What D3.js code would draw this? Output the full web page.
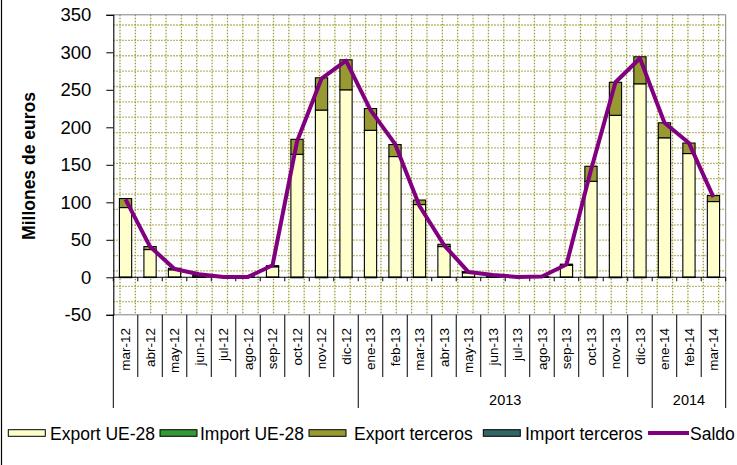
<!DOCTYPE html>
<html>
<head>
<meta charset="utf-8">
<script src="https://cdn.jsdelivr.net/npm/d3@7"></script>
<style>
  html, body { margin: 0; padding: 0; background: #fff; }
  svg { display: block; font-family: "Liberation Sans", Arial, sans-serif; }
</style>
</head>
<body>
<svg id="chart" width="737" height="465"></svg>
<script>
// ---- data ----
const months = ["mar-12","abr-12","may-12","jun-12","jul-12","ago-12","sep-12","oct-12","nov-12","dic-12",
  "ene-13","feb-13","mar-13","abr-13","may-13","jun-13","jul-13","ago-13","sep-13","oct-13","nov-13","dic-13",
  "ene-14","feb-14","mar-14"];
const years = [
  {label: "", from: 0, to: 10},
  {label: "2013", from: 10, to: 22},
  {label: "2014", from: 22, to: 25}
];
const exportUE        = [93, 37, 10, 2, 0.3, 0.3, 14, 164, 223, 250, 196, 161, 97, 41, 6, 2, 0.3, 1, 16, 128, 216, 258, 186, 165, 101];
const importUE        = [-0.2, -0.2, -0.1, -0.1, -0.1, -0.1, -0.1, -0.3, -0.3, -0.3, -0.3, -0.2, -0.2, -0.1, -0.1, -0.1, -0.1, -0.1, -0.1, -0.3, -0.3, -0.3, -0.3, -0.2, -0.2];
const exportTerceros  = [12, 4, 2, 1.5, 0, 0, 1.5, 20, 43, 40, 29, 16, 6, 3, 1.5, 0.5, 0, 0, 1.5, 20, 44, 36, 20, 14, 8];
const importTerceros  = [-0.2, -0.1, -0.1, -0.1, -0.1, -0.1, -0.1, -0.2, -0.2, -0.2, -0.2, -0.2, -0.1, -0.1, -0.1, -0.1, -0.1, -0.1, -0.1, -0.2, -0.2, -0.2, -0.2, -0.1, -0.1];
const saldo           = [104, 41, 11, 4, 0.5, 0.5, 16, 181, 265, 289, 223, 178, 95, 43, 7, 3, 0.5, 1, 17, 143, 260, 292, 206, 179, 107];
const yTicks = [-50, 0, 50, 100, 150, 200, 250, 300, 350];

const seriesKeys = ["exportUE", "importUE", "exportTerceros", "importTerceros"];
const seriesNames = {exportUE: "Export UE-28", importUE: "Import UE-28", exportTerceros: "Export terceros", importTerceros: "Import terceros"};
const colors = {exportUE: "#FFFFCC", importUE: "#339933", exportTerceros: "#999933", importTerceros: "#336666", saldo: "#800080"};

const table = months.map((m, i) => ({
  month: m,
  exportUE: exportUE[i], importUE: importUE[i],
  exportTerceros: exportTerceros[i], importTerceros: importTerceros[i],
  saldo: saldo[i]
}));

// ---- layout ----
const svg = d3.select("#chart");
const L = 113.3, R = 725.7, T = 14.8, B = 314.8;
const x = d3.scaleBand().domain(months).range([L, R]).paddingInner(0.5).paddingOuter(0.25);
const xb = d3.scaleLinear().domain([0, months.length]).range([L, R]);
const y = d3.scaleLinear().domain([-50, 350]).range([B, T]);

// outer frame (left edge)
svg.append("line").attr("x1", 1.5).attr("x2", 1.5).attr("y1", 0).attr("y2", 465)
  .attr("stroke", "#000").attr("stroke-width", 1.2);

// plot area pattern grid (dotted)
const gridColor = "#9d9d3a";
const grid = svg.append("g");
const hStep = 15.37, vStep = 15.35;
d3.range(25, B - 2, hStep).forEach(gy => {
  grid.append("line").attr("x1", L).attr("x2", R).attr("y1", gy).attr("y2", gy)
    .attr("stroke", gridColor).attr("stroke-width", 1.3).attr("stroke-dasharray", "1.4 1.6");
});
d3.range(120, R - 2, vStep).forEach(gx => {
  grid.append("line").attr("x1", gx).attr("x2", gx).attr("y1", T).attr("y2", B)
    .attr("stroke", gridColor).attr("stroke-width", 1.3).attr("stroke-dasharray", "1.4 1.6");
});

// plot border top/right/bottom
svg.append("path").attr("d", `M${L},${T}H${R}V${B}H${L}`)
  .attr("fill", "none").attr("stroke", "#808080").attr("stroke-width", 1);

// bars
const stack = d3.stack().keys(seriesKeys).offset(d3.stackOffsetDiverging);
const stacked = stack(table);
const barsG = svg.append("g");
stacked.forEach(layer => {
  barsG.append("g").selectAll("rect")
    .data(layer.filter(d => d[1] !== d[0]))
    .join("rect")
    .attr("x", d => x(d.data.month))
    .attr("width", x.bandwidth())
    .attr("y", d => y(Math.max(d[0], d[1])))
    .attr("height", d => Math.abs(y(d[0]) - y(d[1])))
    .attr("fill", colors[layer.key])
    .attr("stroke", "#000")
    .attr("stroke-width", 1.1);
});

// zero line with ticks
svg.append("line").attr("x1", L).attr("x2", R).attr("y1", y(0)).attr("y2", y(0))
  .attr("stroke", "#000").attr("stroke-width", 1.1);
svg.append("g").selectAll("line").data(d3.range(0, months.length + 1)).join("line")
  .attr("x1", d => xb(d)).attr("x2", d => xb(d))
  .attr("y1", y(0)).attr("y2", y(0) + 4)
  .attr("stroke", "#000").attr("stroke-width", 1);

// saldo line
svg.append("path")
  .datum(table)
  .attr("d", d3.line().x(d => x(d.month) + x.bandwidth() / 2).y(d => y(d.saldo)))
  .attr("fill", "none").attr("stroke", colors.saldo).attr("stroke-width", 4)
  .attr("stroke-linejoin", "round");

// y axis
const yAxis = d3.axisLeft(y).tickValues(yTicks).tickSize(7).tickPadding(15).tickFormat(d => String(d));
const ya = svg.append("g").attr("transform", `translate(${L},0)`).call(yAxis);
ya.select(".domain").attr("stroke", "#000").attr("stroke-width", 1.1);
ya.selectAll(".tick line").attr("stroke", "#000");
ya.selectAll(".tick text").attr("font-size", 18.5).attr("fill", "#000")
  .attr("font-family", "'Liberation Sans', Arial, sans-serif");

// y title
svg.append("text")
  .attr("transform", `translate(35,166) rotate(-90)`)
  .attr("text-anchor", "middle")
  .attr("font-size", 17.5).attr("font-weight", "bold")
  .text("Millones de euros");

// category table lines
const catG = svg.append("g");
d3.range(0, months.length + 1).forEach(i => {
  const isYear = years.some(yr => yr.from === i || yr.to === i);
  catG.append("line").attr("x1", xb(i)).attr("x2", xb(i))
    .attr("y1", B).attr("y2", isYear ? 408 : 377)
    .attr("stroke", "#000").attr("stroke-width", 1);
});

// month labels
catG.selectAll("text.m").data(months).join("text")
  .attr("class", "m")
  .attr("transform", d => `translate(${x(d) + x.bandwidth() / 2 + 4.8},328) rotate(-90)`)
  .attr("text-anchor", "end")
  .attr("font-size", 13.5)
  .text(d => d);

// year labels
catG.selectAll("text.y").data(years.filter(d => d.label)).join("text")
  .attr("class", "y")
  .attr("x", d => (xb(d.from) + xb(d.to)) / 2)
  .attr("y", 404.5)
  .attr("text-anchor", "middle")
  .attr("font-size", 14.5)
  .text(d => d.label);

// legend
const lg = svg.append("g");
const legendItems = seriesKeys.map(k => ({key: k, name: seriesNames[k]})).concat([{key: "saldo", name: "Saldo"}]);
const swatchX = [8.3, 160, 309, 483.3, 648];
const textX = [50, 200, 354, 525, 690];
legendItems.forEach((item, i) => {
  if (item.key === "saldo") {
    lg.append("line").attr("x1", swatchX[i]).attr("x2", swatchX[i] + 41).attr("y1", 433).attr("y2", 433)
      .attr("stroke", colors.saldo).attr("stroke-width", 4);
  } else {
    lg.append("rect").attr("x", swatchX[i]).attr("y", 429.7).attr("width", 37).attr("height", 6.6)
      .attr("fill", colors[item.key]).attr("stroke", "#000").attr("stroke-width", 1);
  }
  lg.append("text").attr("x", textX[i]).attr("y", 439.6).attr("font-size", 17.5).text(item.name);
});
</script>
</body>
</html>
